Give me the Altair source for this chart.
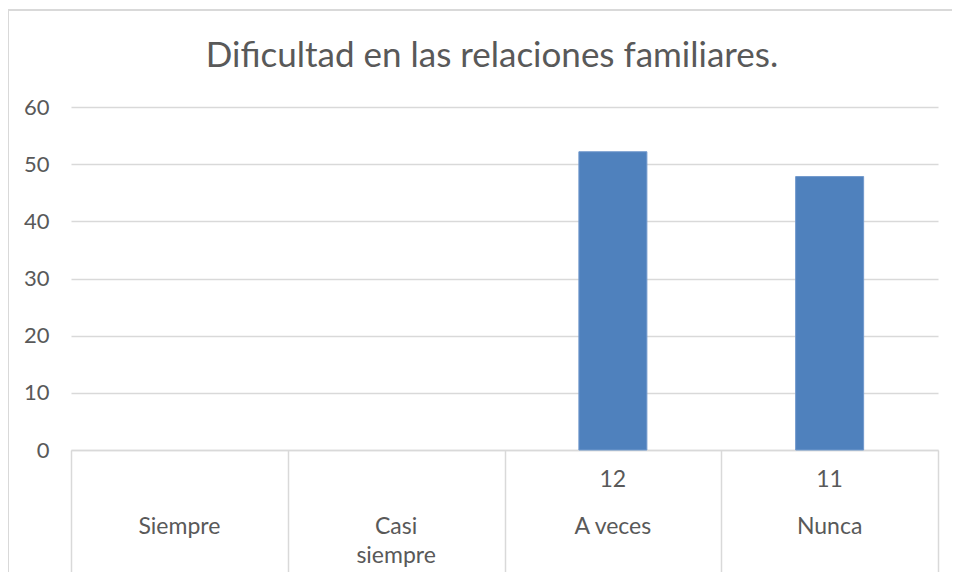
import altair as alt
import pandas as pd
import textwrap

# ---- data ----
categories = ["Siempre", "Casi siempre", "A veces", "Nunca"]
percentages = [0.0, 0.0, 52.17, 47.83]
counts = ["", "", "12", "11"]
y_ticks = [0, 10, 20, 30, 40, 50, 60]
title_text = "Dificultad en las relaciones familiares."

df = pd.DataFrame({
    "cat": categories,
    "pct": percentages,
    "count": counts,
    "label": [textwrap.fill(c, 8) for c in categories],
})

GRID = "#d9d9d9"
TEXT = "#595959"
FONT = "Lato"
FS = 23

base = alt.Chart(df)

x_scale = alt.Scale(domain=categories, paddingInner=0, paddingOuter=0)

x_enc = alt.X(
    "cat:N", title=None, scale=x_scale,
    axis=alt.Axis(labels=False, tickBand="extent", tickSize=122, tickColor=GRID,
                  tickWidth=1.5, domainColor=GRID, domainWidth=1.5, grid=False),
)

bars = base.transform_filter("datum.pct > 0").mark_bar(
    size=68, color="#4f81bd", stroke="#7099cc", strokeWidth=1).encode(
    x=x_enc,
    y=alt.Y("pct:Q", title=None,
            scale=alt.Scale(domain=[0, 60], nice=False),
            axis=alt.Axis(values=y_ticks, domain=False, ticks=False, gridColor=GRID,
                          gridWidth=1.5, labelColor=TEXT, labelFontSize=22,
                          labelFont=FONT, labelPadding=22)),
)

count_text = base.mark_text(fontSize=FS, font=FONT, color=TEXT, baseline="middle").encode(
    x=alt.X("cat:N", scale=x_scale),
    y=alt.value(373),
    text="count:N",
)

cat_text = base.mark_text(fontSize=FS, font=FONT, color=TEXT, baseline="middle",
                          lineBreak="\n", lineHeight=29).encode(
    x=alt.X("cat:N", scale=x_scale),
    y=alt.value(420),
    text="label:N",
)

title = alt.Chart(alt.Data(values=[{"t": title_text}])).mark_text(
    fontSize=35, font=FONT, color=TEXT, baseline="alphabetic", align="center").encode(
    x=alt.value(421), y=alt.value(-40), text="t:N")

one = alt.Data(values=[{"k": 1}])
border_left = alt.Chart(one).mark_rule(color=GRID, strokeWidth=2).encode(
    x=alt.value(-63), y=alt.value(-97), y2=alt.value(480))
border_top = alt.Chart(one).mark_rule(color=GRID, strokeWidth=2).encode(
    x=alt.value(-63), x2=alt.value(900), y=alt.value(-97))

chart = alt.layer(border_left, border_top, bars, count_text, cat_text, title).properties(
    width=867, height=343,
    autosize=alt.AutoSizeParams(type="none"),
    padding={"left": 63, "top": 99, "right": 14, "bottom": 122},
).configure_view(stroke=None)

chart.save("out.html", embed_options={"renderer": "svg", "actions": False})
